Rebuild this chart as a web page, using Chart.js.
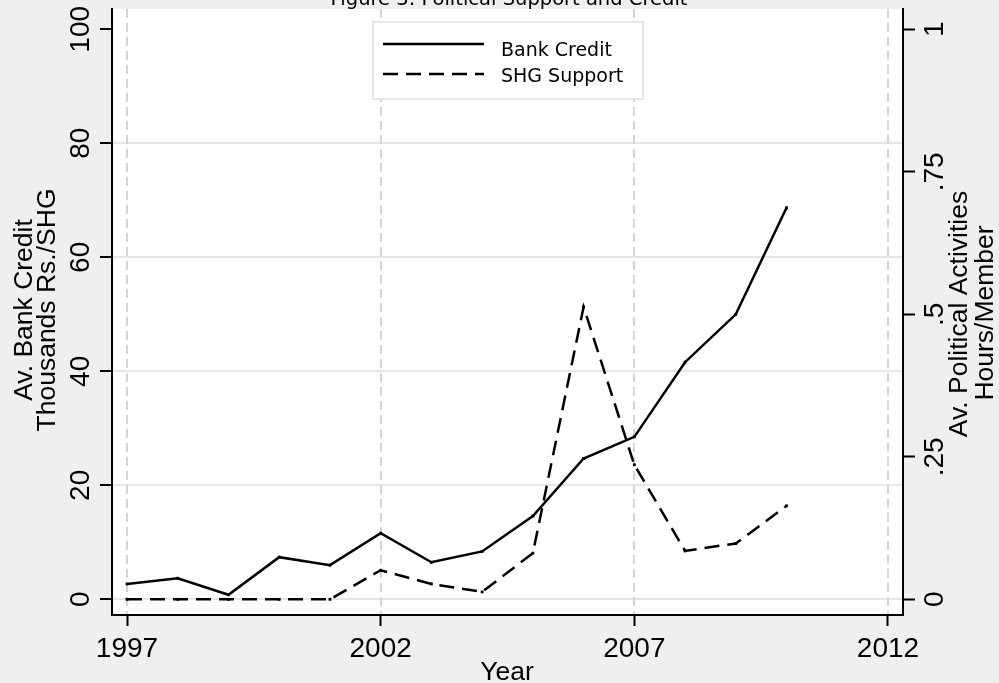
<!DOCTYPE html>
<html>
<head>
<meta charset="utf-8">
<title>Political Support and Credit</title>
<script src="https://cdn.jsdelivr.net/npm/chart.js@4.4.1/dist/chart.umd.min.js"></script>
<style>
  html, body { margin: 0; padding: 0; background: #efefef; }
  canvas { display: block; }
</style>
</head>
<body>
<canvas id="chart" width="999" height="683"></canvas>
<script>
// Yearly averages per SHG
const years = [1997, 1998, 1999, 2000, 2001, 2002, 2003, 2004, 2005, 2006, 2007, 2008, 2009, 2010];
const bankCredit = [2.7, 3.7, 0.8, 7.4, 6.0, 11.6, 6.5, 8.4, 14.6, 24.7, 28.5, 41.6, 50.0, 68.7];
const shgSupport = [0, 0, 0, 0, 0, 0.051, 0.027, 0.013, 0.081, 0.513, 0.236, 0.085, 0.098, 0.164];

// Axis ticks and labels
const yearTicks = [1997, 2002, 2007, 2012];
const creditTicks = [0, 20, 40, 60, 80, 100];
const supportTicks = [0, 0.25, 0.5, 0.75, 1];
const supportTickLabels = ['0', '.25', '.5', '.75', '1'];

const chartTitle = 'Figure 3: Political Support and Credit';
const xTitle = 'Year';
const leftTitle = ['Av. Bank Credit', 'Thousands Rs./SHG'];
const rightTitle = ['Av. Political Activities', 'Hours/Member'];

const NUM_FONT = '28px "Liberation Sans", Arial, sans-serif';
const AXIS_FONT = '26.5px "Liberation Sans", Arial, sans-serif';
const LEGEND_FONT = '19px "DejaVu Sans", sans-serif';
const TITLE_FONT = '19.5px "DejaVu Sans", sans-serif';

function rotatedText(ctx, text, x, y, font) {
  ctx.save();
  ctx.translate(x, y);
  ctx.rotate(-Math.PI / 2);
  ctx.font = font;
  ctx.fillStyle = '#000';
  ctx.textAlign = 'center';
  ctx.textBaseline = 'alphabetic';
  ctx.fillText(text, 0, 0);
  ctx.restore();
}

const stataFrame = {
  id: 'stataFrame',
  beforeDraw(chart) {
    const { ctx, chartArea: a } = chart;
    ctx.save();
    ctx.fillStyle = '#efefef';
    ctx.fillRect(0, 0, chart.width, chart.height);
    ctx.fillStyle = '#ffffff';
    ctx.fillRect(a.left, a.top, a.right - a.left, a.bottom - a.top);
    ctx.restore();
  },
  beforeDatasetsDraw(chart) {
    // dashed vertical reference lines at each labelled year
    const { ctx, chartArea: a } = chart;
    const x = chart.scales.x;
    ctx.save();
    ctx.strokeStyle = '#d4d4d4';
    ctx.lineWidth = 2;
    ctx.setLineDash([9, 5]);
    x.ticks.forEach(t => {
      const px = Math.round(x.getPixelForValue(t.value));
      ctx.beginPath();
      ctx.moveTo(px, a.top);
      ctx.lineTo(px, a.bottom - 1);
      ctx.stroke();
    });
    ctx.restore();
  },
  afterDraw(chart) {
    const { ctx, chartArea: a } = chart;
    const { x, y, y1 } = chart.scales;

    // tick labels
    y.ticks.forEach(t => rotatedText(ctx, String(t.value), 89, y.getPixelForValue(t.value), NUM_FONT));
    y1.ticks.forEach((t, i) => rotatedText(ctx, supportTickLabels[i], 943, y1.getPixelForValue(t.value), NUM_FONT));
    ctx.save();
    ctx.font = NUM_FONT;
    ctx.fillStyle = '#000';
    ctx.textAlign = 'center';
    ctx.textBaseline = 'alphabetic';
    x.ticks.forEach(t => ctx.fillText(String(t.value), x.getPixelForValue(t.value), 657));
    // x axis title
    ctx.font = AXIS_FONT;
    ctx.fillText(xTitle, 507, 680);
    // chart title (top edge of the page)
    ctx.font = TITLE_FONT;
    ctx.fillText(chartTitle, 509, 5);
    ctx.restore();

    // y axis titles
    const midY = (a.top + a.bottom) / 2;
    rotatedText(ctx, leftTitle[0], 32, midY - 2, AXIS_FONT);
    rotatedText(ctx, leftTitle[1], 55, midY - 2, AXIS_FONT);
    rotatedText(ctx, rightTitle[0], 967, midY + 2, AXIS_FONT);
    rotatedText(ctx, rightTitle[1], 993, midY + 1, AXIS_FONT);

    // legend box
    ctx.save();
    ctx.fillStyle = '#ffffff';
    ctx.fillRect(373, 22, 270, 77);
    ctx.strokeStyle = '#e6e6e6';
    ctx.lineWidth = 2;
    ctx.strokeRect(373, 22, 270, 77);
    const rows = [{ ly: 44, ty: 55.5 }, { ly: 74, ty: 82 }];
    chart.data.datasets.forEach((ds, i) => {
      const r = rows[i];
      ctx.strokeStyle = ds.borderColor;
      ctx.lineWidth = ds.borderWidth;
      ctx.setLineDash(ds.borderDash || []);
      ctx.beginPath();
      ctx.moveTo(383, r.ly);
      ctx.lineTo(484, r.ly);
      ctx.stroke();
      ctx.setLineDash([]);
      ctx.font = LEGEND_FONT;
      ctx.fillStyle = '#000';
      ctx.textAlign = 'left';
      ctx.textBaseline = 'alphabetic';
      ctx.fillText(ds.label, 501, r.ty);
    });
    ctx.restore();
  }
};

const toPoints = vals => years.map((yr, i) => ({ x: yr, y: vals[i] }));

new Chart(document.getElementById('chart'), {
  type: 'line',
  data: {
    datasets: [
      {
        label: 'Bank Credit',
        data: toPoints(bankCredit),
        yAxisID: 'y',
        borderColor: '#000',
        borderWidth: 2.5,
        pointStyle: 'rect',
        pointRadius: 2,
        pointBackgroundColor: '#000',
        pointBorderWidth: 0,
        tension: 0,
        fill: false
      },
      {
        label: 'SHG Support',
        data: toPoints(shgSupport),
        yAxisID: 'y1',
        borderColor: '#000',
        borderWidth: 2.5,
        borderDash: [15, 8],
        pointStyle: 'rect',
        pointRadius: 2,
        pointBackgroundColor: '#000',
        pointBorderWidth: 0,
        tension: 0,
        fill: false
      }
    ]
  },
  options: {
    responsive: false,
    animation: false,
    events: [],
    layout: { padding: { top: 9, left: 0, right: 0, bottom: 0 } },
    plugins: { legend: { display: false }, tooltip: { enabled: false }, title: { display: false } },
    scales: {
      x: {
        type: 'linear',
        min: 1996.704,
        max: 2012.296,
        afterBuildTicks: s => { s.ticks = yearTicks.map(v => ({ value: v })); },
        afterFit: s => { s.height = 68; },
        grid: { drawOnChartArea: false, drawTicks: true, tickLength: 11, tickColor: '#000', tickWidth: 2 },
        border: { display: true, color: '#000', width: 2 },
        ticks: { display: false }
      },
      y: {
        type: 'linear',
        position: 'left',
        min: -2.75,
        max: 103.56,
        afterBuildTicks: s => { s.ticks = creditTicks.map(v => ({ value: v })); },
        afterFit: s => { s.width = 112; },
        grid: {
          color: c => (c.tick && c.tick.value === 100) ? 'rgba(0,0,0,0)' : '#e6e6e6',
          lineWidth: 2,
          drawTicks: true,
          tickLength: 12,
          tickColor: '#000',
          tickWidth: 2
        },
        border: { display: true, color: '#000', width: 2 },
        ticks: { display: false }
      },
      y1: {
        type: 'linear',
        position: 'right',
        min: -0.0275,
        max: 1.0356,
        afterBuildTicks: s => { s.ticks = supportTicks.map(v => ({ value: v })); },
        afterFit: s => { s.width = 96; },
        grid: { drawOnChartArea: false, drawTicks: true, tickLength: 12, tickColor: '#000', tickWidth: 2 },
        border: { display: true, color: '#000', width: 2 },
        ticks: { display: false }
      }
    }
  },
  plugins: [stataFrame]
});
</script>
</body>
</html>
